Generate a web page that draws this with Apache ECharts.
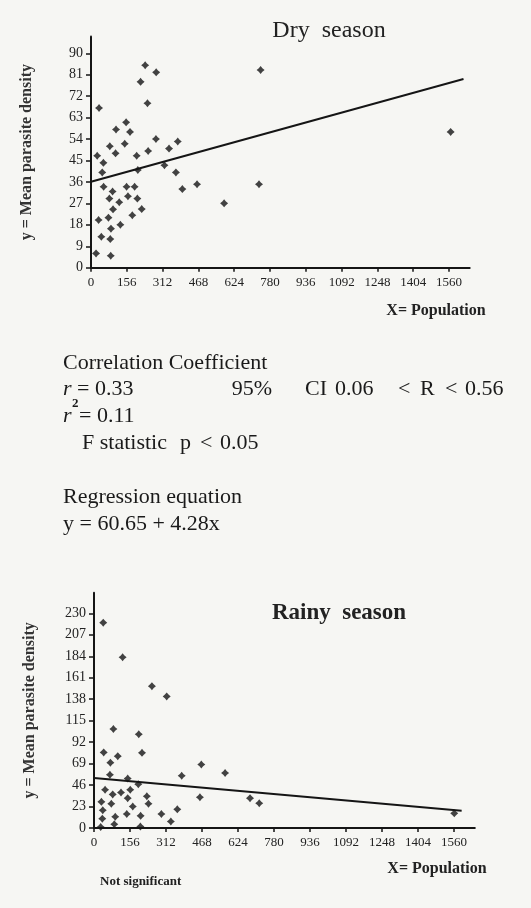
<!DOCTYPE html>
<html><head><meta charset="utf-8">
<script src="https://cdn.jsdelivr.net/npm/echarts@6/dist/echarts.min.js"></script>
<style>html,body{margin:0;padding:0;background:#f6f6f3}#c{width:531px;height:908px}</style>
</head><body><div id="c"></div>
<script>
// ---- data ----
const xTicks = [0, 156, 312, 468, 624, 780, 936, 1092, 1248, 1404, 1560];
const dryTicksY = [0, 9, 18, 27, 36, 45, 54, 63, 72, 81, 90];
const rainyTicksY = [0, 23, 46, 69, 92, 115, 138, 161, 184, 207, 230];

const dryPoints = [
  [35,67],[236,85],[284,82],[216,78],[246,69],[153,61],[170,57],[109,58],[147,52],[82,51],
  [107,48],[27,47],[199,47],[283,54],[249,49],[378,53],[340,50],[54,44],[49,40],[204,41],
  [320,43],[370,40],[398,33],[462,35],[580,27],[55,34],[94,32],[155,34],[190,34],[80,29],
  [123,27.5],[161,30],[202,29],[96,24.5],[221,24.6],[33,20],[76,21],[180,22],[128,18],[87,16.4],
  [45,13],[84,12],[22,6],[86,5],[739,83],[732,35],[1567,57]
];
const dryFit = [[0,36.1],[1623,79.2]];

const rainyPoints = [
  [40,220],[124,183],[251,152],[315,141],[84,106],[194,100.5],[42,81],[103,77],[208,80.5],[71,70],
  [69,57],[146,53],[192,47],[380,56],[465,68],[568,59],[459,33],[48,41],[81,36],[117,38],
  [157,41],[32,28],[75,26],[146,32],[229,34],[38,19],[168,23],[236,26],[361,20],[36,10],
  [92,12],[142,15],[202,13],[292,15],[333,7],[88,4],[29,1],[201,1.5],[676,32],[716,26.5],[1561,15.7]
];
const rainyFit = [[0,53.5],[1593,18.5]];

const dryTitle = 'Dry  season';
const rainyTitle = 'Rainy  season';
const yName = 'y = Mean parasite density';
const xName = 'X= Population';

// ---- chart ----
const SERIF = '"Liberation Serif", "DejaVu Serif", serif';
const INK = '#151515';
const starPath = 'path://M0,-10 L4.5,-4.5 L10,0 L4.5,4.5 L0,10 L-4.5,4.5 L-10,0 L-4.5,-4.5 Z';

function xAxisCfg(idx) {
  return {
    gridIndex: idx, type: 'value', min: 0, max: 1650,
    axisLine: {show: true, onZero: false, lineStyle: {color: INK, width: 2}},
    axisTick: {show: true, customValues: xTicks, length: 4, lineStyle: {color: INK, width: 1.5}},
    axisLabel: {customValues: xTicks, formatter: function (v) { return String(v); },
                fontFamily: SERIF, fontSize: 13, color: '#222', margin: 8},
    splitLine: {show: false}
  };
}
function yAxisCfg(idx, max, ticks) {
  return {
    gridIndex: idx, type: 'value', min: 0, max: max,
    axisLine: {show: true, onZero: false, lineStyle: {color: INK, width: 2}},
    axisTick: {show: true, customValues: ticks, length: 5, lineStyle: {color: INK, width: 1.5}},
    axisLabel: {customValues: ticks, formatter: function (v) { return String(v); },
                fontFamily: SERIF, fontSize: 14, color: '#222', margin: 8},
    splitLine: {show: false},
    name: yName, nameLocation: 'middle', nameGap: 56,
    nameTextStyle: {fontFamily: SERIF, fontSize: 16, fontWeight: 'bold', color: '#333'}
  };
}

function txt(text, x, y, size, opts) {
  opts = opts || {};
  return {
    type: 'text', x: x, y: y, silent: true,
    style: {
      text: text, fill: opts.fill || '#1a1a1a',
      font: (opts.italic ? 'italic ' : '') + (opts.bold ? 'bold ' : '') + size + 'px ' + SERIF,
      textAlign: opts.align || 'left', textVerticalAlign: 'middle'
    }
  };
}

const chart = echarts.init(document.getElementById('c'), null, {renderer: 'canvas'});
chart.setOption({
  animation: false,
  backgroundColor: '#f6f6f3',
  grid: [
    {left: 91, top: 36.6, width: 378.7, height: 231.1, containLabel: false, outerBoundsMode: 'none'},
    {left: 94, top: 592.8, width: 380.8, height: 235.2, containLabel: false, outerBoundsMode: 'none'}
  ],
  xAxis: [xAxisCfg(0), xAxisCfg(1)],
  yAxis: [yAxisCfg(0, 97, dryTicksY), yAxisCfg(1, 252, rainyTicksY)],
  series: [
    {type: 'scatter', xAxisIndex: 0, yAxisIndex: 0, data: dryPoints, symbol: starPath, symbolSize: 8,
     itemStyle: {color: INK}, silent: true},
    {type: 'line', xAxisIndex: 0, yAxisIndex: 0, data: dryFit, showSymbol: false, symbol: 'none',
     lineStyle: {color: INK, width: 2}, silent: true},
    {type: 'scatter', xAxisIndex: 1, yAxisIndex: 1, data: rainyPoints, symbol: starPath, symbolSize: 8,
     itemStyle: {color: INK}, silent: true},
    {type: 'line', xAxisIndex: 1, yAxisIndex: 1, data: rainyFit, showSymbol: false, symbol: 'none',
     lineStyle: {color: INK, width: 2}, silent: true}
  ],
  graphic: [
    txt(dryTitle, 329, 31, 24, {align: 'center', fill: '#222'}),
    txt(xName, 436, 311, 16, {align: 'center', bold: true, fill: '#222'}),
    txt('Correlation Coefficient', 63, 363, 22),
    txt('r', 63, 389, 22, {italic: true}),
    txt('= 0.33', 77, 389, 22),
    txt('95%', 272, 389, 22, {align: 'right'}),
    txt('CI', 305, 389, 22),
    txt('0.06', 335, 389, 22),
    txt('<', 398, 389, 22),
    txt('R', 420, 389, 22),
    txt('<', 445, 389, 22),
    txt('0.56', 465, 389, 22),
    txt('r', 63, 416, 22, {italic: true}),
    txt('2', 72, 404, 13, {bold: true}),
    txt('= 0.11', 79, 416, 22),
    txt('F statistic', 82, 443, 22),
    txt('p', 180, 443, 22),
    txt('<', 200, 443, 22),
    txt('0.05', 220, 443, 22),
    txt('Regression equation', 63, 497, 22),
    txt('y = 60.65 + 4.28x', 63, 524, 22),
    txt(rainyTitle, 339, 613, 23, {align: 'center', bold: true, fill: '#222'}),
    txt(xName, 437, 869, 16, {align: 'center', bold: true, fill: '#222'}),
    txt('Not significant', 100, 882, 13, {bold: true, fill: '#222'})
  ]
});
</script></body></html>
